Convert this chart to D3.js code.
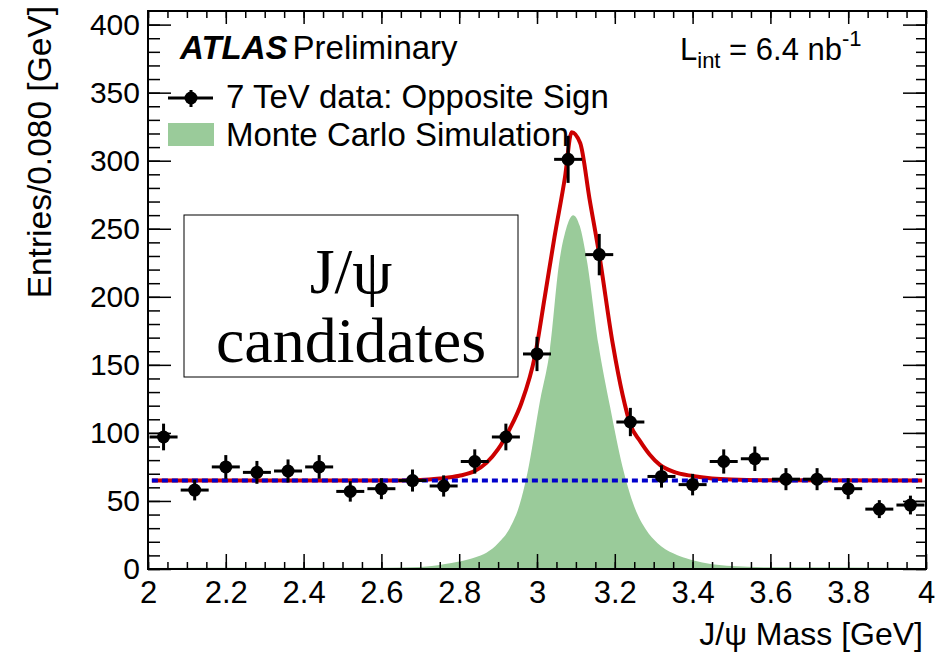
<!DOCTYPE html>
<html>
<head>
<meta charset="utf-8">
<script src="https://cdn.jsdelivr.net/npm/d3@7"></script>
<style>
body { margin: 0; background: #fff; }
</style>
</head>
<body>
<div id="chart"></div>
<script>
// values
const binCenters = [2.04, 2.12, 2.20, 2.28, 2.36, 2.44, 2.52, 2.60, 2.68, 2.76, 2.84, 2.92, 3.00,
  3.08, 3.16, 3.24, 3.32, 3.40, 3.48, 3.56, 3.64, 3.72, 3.80, 3.88, 3.96];
const counts = [97, 58, 75, 71, 72, 75, 57, 59, 65, 61, 79, 97, 158,
  301, 231, 108, 68, 62, 79, 81, 66, 66, 59, 44, 47];
const countErr = [9.8, 7.6, 8.7, 8.4, 8.5, 8.7, 7.5, 7.7, 8.1, 7.8, 8.9, 9.8, 12.6,
  17.3, 15.2, 10.4, 8.2, 7.9, 8.9, 9.0, 8.1, 8.1, 7.7, 6.6, 6.9];
const binHalf = 0.036;

// fitted signal + background (red)
const fitX = [2.01, 2.60, 2.70, 2.75, 2.80, 2.84, 2.87, 2.90, 2.93, 2.96, 2.995, 3.02, 3.045, 3.072,
  3.089, 3.111, 3.135, 3.16, 3.195, 3.22, 3.24, 3.265, 3.29, 3.316, 3.35, 3.40, 3.45, 3.50, 3.60, 3.99];
const fitY = [65, 65, 65.4, 66.5, 68.5, 72, 78, 88, 103, 122, 157, 200, 244, 288,
  321, 313, 272, 231, 165, 128, 106, 94, 84, 76.5, 71.5, 68.3, 66.5, 65.7, 65.2, 65];

// background only (blue dotted)
const bkgX = [2.01, 3.99];
const bkgY = [65, 65];

// Monte Carlo shape (green)
const mcX = [2.0, 2.6, 2.70, 2.76, 2.80, 2.84, 2.87, 2.90, 2.93, 2.955, 2.975, 3.008, 3.033, 3.057, 3.075,
  3.093, 3.11, 3.128, 3.158, 3.188, 3.22, 3.25, 3.28, 3.31, 3.35, 3.40, 3.45, 3.5, 3.6, 4.0];
const mcY = [0.8, 1, 1.5, 3.5, 5.5, 8.5, 12, 19, 30, 47, 70, 124, 161, 225, 250,
  260, 252, 227, 165, 119, 75, 46, 29, 19, 11.5, 6.5, 3.5, 2.2, 1.2, 0.8];

const xMajor = [2, 2.2, 2.4, 2.6, 2.8, 3, 3.2, 3.4, 3.6, 3.8, 4];
const yMajor = [0, 50, 100, 150, 200, 250, 300, 350, 400];

// chart dimensions
const margin = {top: 11, right: 16, bottom: 95, left: 148};
const width = 942 - margin.left - margin.right;
const height = 664 - margin.top - margin.bottom;
const font = "'Liberation Sans', Arial, sans-serif";
const serif = "'Liberation Serif', 'Times New Roman', serif";

const svg = d3.select("#chart").append("svg")
  .attr("width", 942)
  .attr("height", 664)
  .append("g")
  .attr("transform", "translate(" + margin.left + "," + margin.top + ")");

const x = d3.scaleLinear().domain([2, 4]).range([0, width]);
const y = d3.scaleLinear().domain([0, 410]).range([height, 0]);

// MC fill
const mcData = mcX.map((d, i) => [d, mcY[i]]);
svg.append("path")
  .datum(mcData)
  .attr("fill", "#9acb9a")
  .attr("d", d3.area().x(d => x(d[0])).y0(y(0)).y1(d => y(d[1])).curve(d3.curveMonotoneX));

// fit curve
const fitData = fitX.map((d, i) => [d, fitY[i]]);
svg.append("path")
  .datum(fitData)
  .attr("fill", "none")
  .attr("stroke", "#cc0000")
  .attr("stroke-width", 4)
  .attr("d", d3.line().x(d => x(d[0])).y(d => y(d[1])).curve(d3.curveMonotoneX));

// background line
svg.append("path")
  .datum(bkgX.map((d, i) => [d, bkgY[i]]))
  .attr("fill", "none")
  .attr("stroke", "#0000cc")
  .attr("stroke-width", 4)
  .attr("stroke-dasharray", "6,4")
  .attr("d", d3.line().x(d => x(d[0])).y(d => y(d[1])));

// data points with error bars
const pts = binCenters.map((d, i) => ({m: d, n: counts[i], e: countErr[i]}));
const pg = svg.selectAll(".pt").data(pts).enter().append("g").attr("class", "pt");
pg.append("line")
  .attr("x1", d => x(d.m - binHalf)).attr("x2", d => x(d.m + binHalf))
  .attr("y1", d => y(d.n)).attr("y2", d => y(d.n))
  .attr("stroke", "#000").attr("stroke-width", 3);
pg.append("line")
  .attr("x1", d => x(d.m)).attr("x2", d => x(d.m))
  .attr("y1", d => y(d.n - d.e)).attr("y2", d => y(d.n + d.e))
  .attr("stroke", "#000").attr("stroke-width", 3);
pg.append("circle")
  .attr("cx", d => x(d.m)).attr("cy", d => y(d.n))
  .attr("r", 6.5).attr("fill", "#000");

// ticks, all pointing inward like ROOT
function ticks(axis, vals, size, transform) {
  svg.append("g")
    .attr("transform", transform)
    .call(axis.tickValues(vals).tickSize(size).tickFormat(""))
    .call(g => g.select(".domain").remove())
    .selectAll("line").attr("stroke", "#000").attr("stroke-width", 1.5);
}
const xMinor = d3.range(2, 4.0001, 0.05);
const yMinor = d3.range(0, 410, 10);
ticks(d3.axisTop(x), xMinor, 7, "translate(0," + height + ")");
ticks(d3.axisTop(x), xMajor, 15, "translate(0," + height + ")");
ticks(d3.axisBottom(x), xMinor, 7, "translate(0,0)");
ticks(d3.axisBottom(x), xMajor, 13, "translate(0,0)");
ticks(d3.axisRight(y), yMinor, 12, "translate(0,0)");
ticks(d3.axisRight(y), yMajor, 23, "translate(0,0)");
ticks(d3.axisLeft(y), yMinor, 10, "translate(" + width + ",0)");
ticks(d3.axisLeft(y), yMajor, 23, "translate(" + width + ",0)");

// frame
svg.append("rect")
  .attr("width", width).attr("height", height)
  .attr("fill", "none").attr("stroke", "#000").attr("stroke-width", 2);

// tick labels
svg.append("g")
  .attr("transform", "translate(0," + height + ")")
  .call(d3.axisBottom(x).tickValues(xMajor).tickSize(0).tickPadding(12).tickFormat(d3.format("~g")))
  .call(g => g.select(".domain").remove())
  .selectAll("text").style("font-family", font).style("font-size", "31px").attr("fill", "#000");

svg.append("g")
  .call(d3.axisLeft(y).tickValues(yMajor).tickSize(0).tickPadding(8))
  .call(g => g.select(".domain").remove())
  .selectAll("text").style("font-family", font).style("font-size", "30px").attr("fill", "#000");

// axis titles
svg.append("text")
  .attr("x", width - 3).attr("y", 645 - margin.top)
  .style("text-anchor", "end")
  .style("font-family", font).style("font-size", "32px")
  .text("J/ψ Mass [GeV]");

svg.append("text")
  .attr("transform", "translate(" + (51 - margin.left) + "," + (6 - margin.top) + ") rotate(-90)")
  .style("text-anchor", "end")
  .style("font-family", font).style("font-size", "33.5px")
  .text("Entries/0.080 [GeV]");

// ATLAS label
const atl = svg.append("text")
  .attr("x", 180 - margin.left).attr("y", 59 - margin.top)
  .style("font-family", font).style("font-size", "33px");
atl.append("tspan").style("font-weight", "bold").style("font-style", "italic").text("ATLAS");
atl.append("tspan").attr("dx", 5).text("Preliminary");

// luminosity
const lum = svg.append("text")
  .attr("x", 680 - margin.left).attr("y", 60 - margin.top)
  .style("font-family", font).style("font-size", "31px");
lum.append("tspan").text("L");
lum.append("tspan").attr("dy", 8).style("font-size", "22px").text("int");
lum.append("tspan").attr("dy", -8).text(" = 6.4 nb");
lum.append("tspan").attr("dy", -14).style("font-size", "22px").text("-1");

// legend
const lg = svg.append("g").attr("transform", "translate(" + (168 - margin.left) + "," + (98 - margin.top) + ")");
lg.append("line").attr("x1", 0).attr("x2", 45).attr("y1", 0).attr("y2", 0)
  .attr("stroke", "#000").attr("stroke-width", 3);
lg.append("line").attr("x1", 23).attr("x2", 23).attr("y1", -8).attr("y2", 9)
  .attr("stroke", "#000").attr("stroke-width", 3);
lg.append("circle").attr("cx", 23).attr("cy", 0).attr("r", 6.5).attr("fill", "#000");
lg.append("text").attr("x", 58).attr("y", 10)
  .style("font-family", font).style("font-size", "33px")
  .text("7 TeV data: Opposite Sign");
lg.append("rect").attr("x", 0).attr("y", 25).attr("width", 46).attr("height", 23)
  .attr("fill", "#9acb9a");
lg.append("text").attr("x", 58).attr("y", 48)
  .style("font-family", font).style("font-size", "33px")
  .text("Monte Carlo Simulation");

// text box
const bx = svg.append("g").attr("transform", "translate(" + (184 - margin.left) + "," + (215 - margin.top) + ")");
bx.append("rect").attr("width", 334).attr("height", 162)
  .attr("fill", "#fff").attr("stroke", "#000").attr("stroke-width", 1);
bx.append("text").attr("x", 167).attr("y", 78)
  .style("text-anchor", "middle")
  .style("font-family", serif).style("font-size", "64px")
  .text("J/ψ");
bx.append("text").attr("x", 167).attr("y", 147)
  .style("text-anchor", "middle")
  .style("font-family", serif).style("font-size", "64px")
  .text("candidates");
</script>
</body>
</html>
